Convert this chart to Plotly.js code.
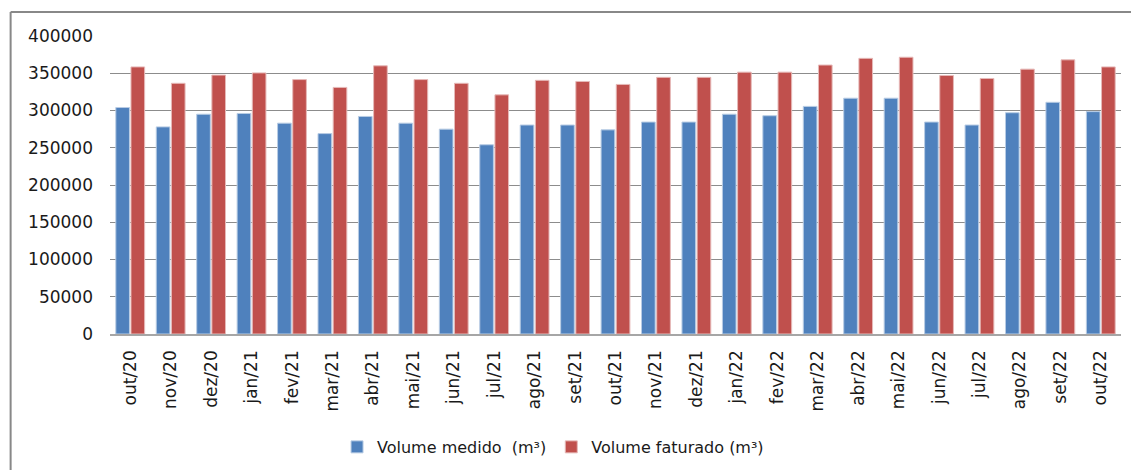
<!DOCTYPE html>
<html>
<head>
<meta charset="utf-8">
<script src="https://cdn.plot.ly/plotly-3.0.1.min.js"></script>
<style>html,body{margin:0;padding:0;background:#fff;}#chart{width:1131px;height:470px;}</style>
</head>
<body>
<div id="chart"></div>
<script>
const months = ["out/20","nov/20","dez/20","jan/21","fev/21","mar/21","abr/21","mai/21","jun/21","jul/21","ago/21","set/21","out/21","nov/21","dez/21","jan/22","fev/22","mar/22","abr/22","mai/22","jun/22","jul/22","ago/22","set/22","out/22"];
const volumeMedido = [304000,278000,295000,296000,283000,269000,292000,283000,275000,254000,280500,280500,274000,284500,284500,295000,293000,305500,316500,316500,284500,280500,297000,311000,298500];
const volumeFaturado = [358500,336500,347500,350500,341500,331000,360000,341500,336500,321000,340500,339000,335000,344500,344500,351500,351500,361000,370000,371500,347000,343000,355500,368000,358500];
const seriesNames = ["Volume medido  (m³)", "Volume faturado (m³)"];
const yTicks = [0,50000,100000,150000,200000,250000,300000,350000,400000];

const font = {family: "DejaVu Sans, sans-serif", size: 17, color: "#1a1a1a"};
const legendFont = {family: "DejaVu Sans, sans-serif", size: 16, color: "#1a1a1a"};

const data = [
  {type: "bar", x: months, y: volumeMedido, name: seriesNames[0],
   marker: {color: "#4F81BD", line: {color: "#B8CCE4", width: 1}}},
  {type: "bar", x: months, y: volumeFaturado, name: seriesNames[1],
   marker: {color: "#C0504D", line: {color: "#E6B9B8", width: 1}}}
];

const layout = {
  width: 1131, height: 470,
  margin: {l: 109.5, r: 9.5, t: 36, b: 136},
  paper_bgcolor: "#fff", plot_bgcolor: "#fff",
  font: font,
  barmode: "group", bargap: 0.25, bargroupgap: 0.1,
  showlegend: true,
  legend: {orientation: "h", xref: "container", yref: "container", x: 0.298, xanchor: "left",
           y: 0.049, yanchor: "middle", font: legendFont, itemwidth: 30, traceorder: "normal"},
  xaxis: {type: "category", tickangle: -90, showgrid: false, ticks: "",
          showline: true, linecolor: "#a6a6a6", linewidth: 1.5, automargin: false,
          tickfont: font, ticklabelstandoff: 8, fixedrange: true},
  yaxis: {range: [0, 400000], tickvals: yTicks, ticktext: yTicks.map(String),
          showgrid: true, gridcolor: "#8c8c8c", gridwidth: 1, zeroline: false, automargin: false,
          showline: false, ticks: "", tickfont: font, ticklabelstandoff: 16, fixedrange: true},
  shapes: [
    {type: "line", xref: "paper", yref: "paper", x0: -0.0983, x1: 1.05, y0: 1.0805, y1: 1.0805,
     line: {color: "#888", width: 2}},
    {type: "line", xref: "paper", yref: "paper", x0: -0.0983, x1: -0.0983, y0: 1.0805, y1: -0.6,
     line: {color: "#888", width: 2}}
  ]
};

Plotly.newPlot("chart", data, layout, {displayModeBar: false, staticPlot: true});
</script>
</body>
</html>
